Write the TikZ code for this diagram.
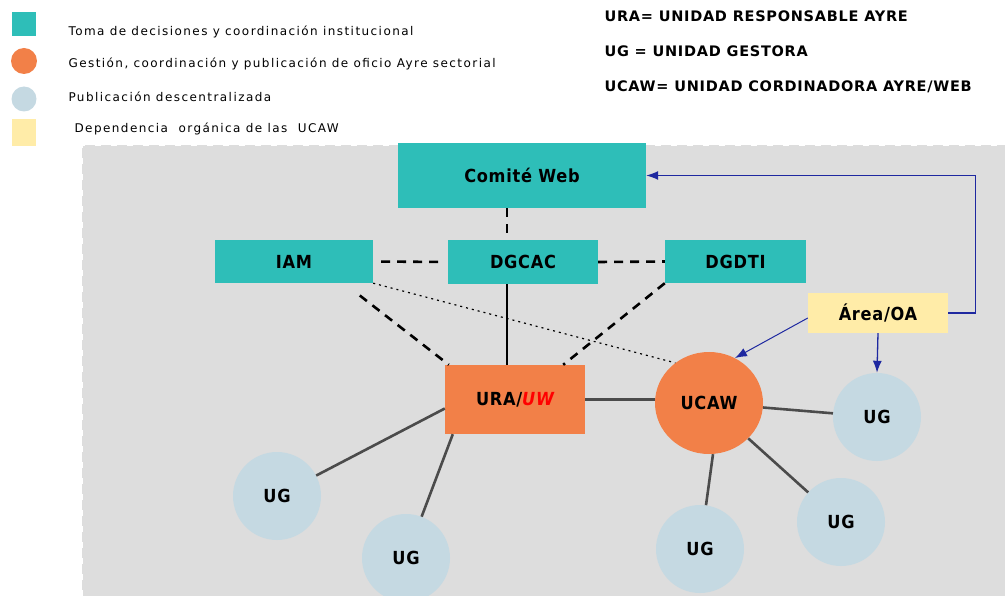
\documentclass[tikz,border=0pt]{standalone}
\usepackage{fontspec}
\setmainfont{DejaVu Sans}
\newfontfamily\condfont{DejaVu Sans Condensed}[LetterSpace=4]
\newfontfamily\siglafont{DejaVu Sans}[LetterSpace=5]
\newfontfamily\legendfont{DejaVu Sans}[LetterSpace=12]
\usepackage{tikz}
\usetikzlibrary{arrows,arrows.meta,calc,shapes.geometric}
\definecolor{turquesa}{RGB}{46,190,184}
\definecolor{naranja}{RGB}{242,128,72}
\definecolor{celeste}{RGB}{197,217,226}
\definecolor{amarillo}{RGB}{255,236,168}
\definecolor{fondo}{RGB}{221,221,221}
\definecolor{gris}{RGB}{75,75,75}
\definecolor{azul}{RGB}{30,40,160}

\begin{document}
\begin{tikzpicture}[x=1pt,y=-1pt,
  organo/.style={fill=turquesa, inner sep=0pt, font=\condfont\bfseries\fontsize{18}{20}\selectfont},
  gestion/.style={fill=naranja, inner sep=0pt, font=\condfont\bfseries\fontsize{18}{20}\selectfont},
  ug/.style={circle, fill=celeste, minimum size=88pt, inner sep=0pt, font=\condfont\bfseries\fontsize{18}{20}\selectfont},
  leyenda/.style={anchor=west, font=\legendfont\fontsize{12}{14}\selectfont},
  sigla/.style={anchor=west, font=\siglafont\bfseries\fontsize{14.5}{16}\selectfont},
  conexion/.style={draw=gris, line width=2.6pt},
  discont/.style={draw=black, line width=2.6pt, dash pattern=on 9pt off 7pt},
  punteado/.style={draw=black, line width=1.2pt, dash pattern=on 2pt off 4pt},
  flecha/.style={draw=azul, line width=1.3pt, -{Latex[length=12pt,width=9pt]}}]
\useasboundingbox (0,0) rectangle (1005,596);
\fill[fondo] (82,145) rectangle (1005,596);
\draw[white, line width=2pt, dash pattern=on 6pt off 10pt] (82,596) |- (1005,145);

\node[fill=turquesa, minimum size=24pt, inner sep=0pt] (marca1) at (24,24) {};
\node[circle, fill=naranja, minimum size=26pt, inner sep=0pt] (marca2) at (24,61) {};
\node[circle, fill=celeste, minimum size=25pt, inner sep=0pt] (marca3) at (24,99) {};
\node[fill=amarillo, minimum width=24pt, minimum height=27pt, inner sep=0pt] (marca4) at (24,133) {};
\node[leyenda] (ley1) at (65,32) {Toma de decisiones y coordinación institucional};
\node[leyenda] (ley2) at (65,64) {Gestión, coordinación y publicación de oficio Ayre sectorial};
\node[leyenda] (ley3) at (65,97) {Publicación descentralizada};
\node[leyenda] (ley4) at (71,129) {Dependencia\ \ orgánica de las\ \ UCAW};

\node[sigla] (def1) at (601,16) {URA= UNIDAD RESPONSABLE AYRE};
\node[sigla] (def2) at (601,51) {UG = UNIDAD GESTORA};
\node[sigla] (def3) at (601,87) {UCAW= UNIDAD CORDINADORA AYRE/WEB};

\node[organo, minimum width=248pt, minimum height=65pt] (comite) at (522,175.5) {Comité Web};
\node[organo, minimum width=158pt, minimum height=43pt] (iam) at (294,261.5) {IAM};
\node[organo, minimum width=150pt, minimum height=44pt] (dgcac) at (523,262) {DGCAC};
\node[organo, minimum width=141pt, minimum height=43pt] (dgdti) at (735.5,261.5) {DGDTI};
\node[fill=amarillo, inner sep=0pt, minimum width=140pt, minimum height=40pt,
  font=\condfont\bfseries\fontsize{18}{20}\selectfont] (area) at (878,313) {Área/OA};
\node[gestion, minimum width=140pt, minimum height=69pt] (ura) at (515,399.5) {URA/\textcolor{red}{\itshape UW}};
\node[gestion, ellipse, minimum width=108pt, minimum height=102pt] (ucaw) at (709,403) {UCAW};
\node[ug] (ug1) at (277,496) {UG};
\node[ug] (ug2) at (406,558) {UG};
\node[ug] (ug3) at (700,549) {UG};
\node[ug] (ug4) at (841,522) {UG};
\node[ug] (ug5) at (877,417) {UG};

\coordinate (eje) at (507,0);
\draw[discont] (comite.south -| eje) -- (dgcac.north -| eje);
\draw[discont, shorten <=8pt, shorten >=8pt] (iam.east) -- (dgcac.west);
\draw[discont] (dgcac.east) -- (dgdti.west);
\draw[discont, shorten <=20pt] ($(iam.south)+(50,0)$) -- ($(ura.north west)+(4,0)$);
\draw[discont] (dgdti.south west) -- ($(ura.north east)+(-22,0)$);
\draw[punteado] (iam.south east) -- (ucaw.130);
\draw[draw=black, line width=2pt] (dgcac.south -| eje) -- (ura.north -| eje);

\draw[conexion, line width=3pt] (ura.east) -- (ura.east -| ucaw.west);
\draw[conexion] ($(ura.west)+(0,9)$) -- (ug1);
\draw[conexion] ($(ura.south west)+(8,0)$) -- (ug2);
\draw[conexion] ($(ucaw.south)+(4,0)$) -- (ug3);
\draw[conexion] (ucaw) -- (ug4);
\draw[conexion] (ucaw) -- (ug5);

\draw[flecha] (area.east) -- ++(27,0) |- (comite.east);
\draw[flecha, line width=1pt] ($(area.west)+(0,5)$) -- (ucaw.60);
\draw[flecha] (area.south) -- (ug5.north);
\end{tikzpicture}
\end{document}
